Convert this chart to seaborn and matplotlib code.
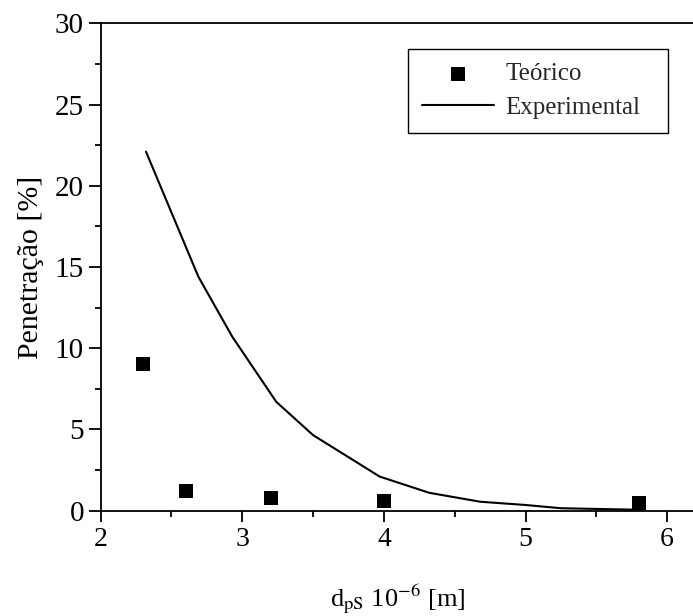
import matplotlib
matplotlib.use("Agg")
import matplotlib.pyplot as plt
import seaborn as sns
import pandas as pd
from matplotlib.ticker import MultipleLocator

# Particle diameter (10^-6 m) and penetration (%)
teorico_d = [2.3, 2.6, 3.2, 4.0, 5.8]
teorico_p = [9.0, 1.2, 0.8, 0.6, 0.45]

exp_d = [2.32, 2.69, 2.93, 3.24, 3.50, 3.97, 4.32, 4.68, 5.00, 5.25, 5.83]
exp_p = [22.1, 14.4, 10.7, 6.7, 4.65, 2.1, 1.1, 0.55, 0.35, 0.15, 0.05]

x_ticks = [2, 3, 4, 5, 6]
y_ticks = [0, 5, 10, 15, 20, 25, 30]

sns.set_theme(style="ticks")
plt.rcParams["font.family"] = ["Liberation Serif", "DejaVu Serif"]
plt.rcParams["mathtext.fontset"] = "stix"

df_t = pd.DataFrame({"d": teorico_d, "p": teorico_p})
df_e = pd.DataFrame({"d": exp_d, "p": exp_p})

fig = plt.figure(figsize=(6.93, 6.16), dpi=100)
ax = fig.add_axes([0.1453, 0.171, 0.8582, 0.791])

sns.scatterplot(data=df_t, x="d", y="p", marker="s", s=110, color="black",
                linewidth=0, ax=ax, label="Teórico", zorder=3)
sns.lineplot(data=df_e, x="d", y="p", color="black", linewidth=1.5,
             ax=ax, label="Experimental", sort=False, estimator=None)

ax.set_xlim(2, 6.2)
ax.set_ylim(0, 30)
ax.set_xticks(x_ticks)
ax.set_yticks(y_ticks)
ax.xaxis.set_minor_locator(MultipleLocator(0.5))
ax.yaxis.set_minor_locator(MultipleLocator(2.5))

for side in ["left", "bottom", "top"]:
    ax.spines[side].set_color("black")
    ax.spines[side].set_linewidth(1.3)
ax.spines["right"].set_visible(False)

ax.tick_params(axis="x", which="major", direction="out", length=8,
               width=1.3, color="black", labelsize=20, labelcolor="black",
               top=False, pad=4)
ax.tick_params(axis="y", which="major", direction="out", length=9,
               width=1.3, color="black", labelsize=21, labelcolor="black",
               right=False, pad=3)
ax.tick_params(axis="both", which="minor", direction="out", length=4.5,
               width=1.3, color="black", top=False, right=False)

ax.set_xlabel(r"d$_{\mathrm{pS}}$ 10$^{\mathrm{-6}}$ [m]", fontsize=19,
              color="black", labelpad=22)
ax.set_ylabel("Penetração [%]", fontsize=21.5, color="black", labelpad=8)

handles, labels = ax.get_legend_handles_labels()
leg = ax.legend(handles, labels, loc="upper left",
                bbox_to_anchor=(0.517, 0.947, 0.437, 0.0), mode="expand",
                borderaxespad=0, fontsize=18, frameon=True, fancybox=False,
                edgecolor="black", framealpha=1,
                handlelength=2.9, handletextpad=0.45, borderpad=0.55,
                labelspacing=0.45)
leg.get_frame().set_linewidth(1.0)

fig.savefig("out.png", dpi=100)
